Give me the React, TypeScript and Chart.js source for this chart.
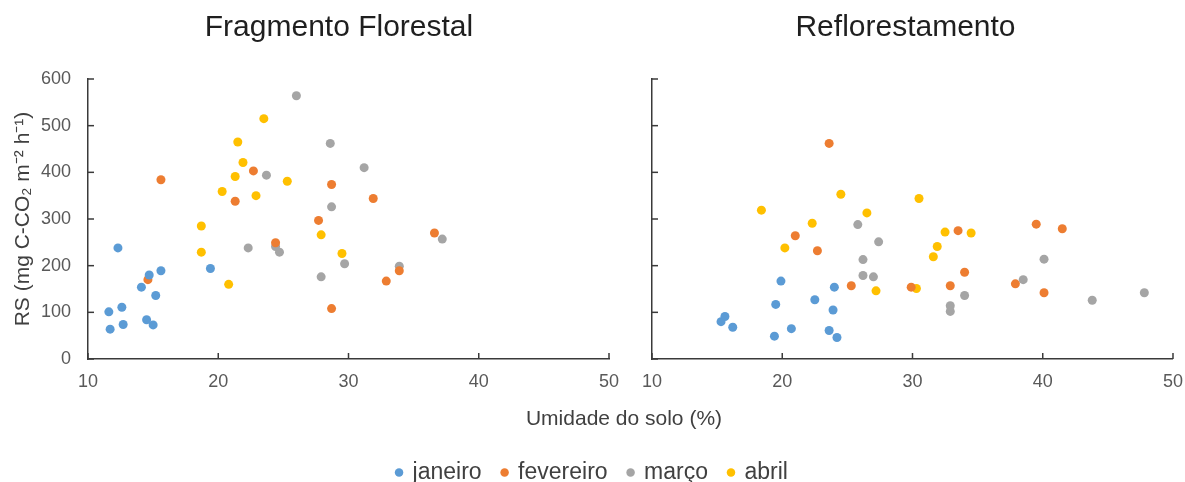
import React, { useEffect, useRef } from 'react';
import { Chart, registerables } from 'chart.js';

Chart.register(...registerables);

// ---------- data ----------
const months = ['janeiro', 'fevereiro', 'março', 'abril'];
const panelTitles = ['Fragmento Florestal', 'Reflorestamento'];
const xAxisTitle = 'Umidade do solo (%)';
const yAxisTitle = 'RS (mg C-CO₂ m⁻² h⁻¹)';
const xTicks = [10, 20, 30, 40, 50];
const yTicks = [0, 100, 200, 300, 400, 500, 600];

// Fragmento Florestal: [umidade (%), RS]
const fragJaneiro: [number, number][] = [
  [11.6, 101], [11.7, 64], [12.3, 238], [12.6, 111], [12.7, 74], [14.1, 154],
  [14.7, 180], [14.5, 84], [15.0, 73], [15.2, 136], [15.6, 189], [19.4, 194],
];
const fragFevereiro: [number, number][] = [
  [14.6, 170], [15.6, 384], [21.3, 338], [22.7, 403], [24.4, 249], [27.7, 297],
  [28.7, 374], [28.7, 108], [31.9, 344], [32.9, 167], [33.9, 189], [36.6, 270],
];
const fragMarco: [number, number][] = [
  [26.0, 564], [23.7, 394], [22.3, 238], [24.4, 241], [24.7, 229], [27.9, 176],
  [28.6, 462], [28.7, 326], [31.2, 410], [29.7, 204], [33.9, 199], [37.2, 257],
];
const fragAbril: [number, number][] = [
  [23.5, 515], [21.5, 465], [21.9, 421], [21.3, 391], [20.3, 359], [22.9, 350],
  [25.3, 381], [18.7, 285], [18.7, 229], [20.8, 160], [27.9, 266], [29.5, 226],
];

// Reflorestamento
const reflJaneiro: [number, number][] = [
  [15.3, 80], [15.6, 91], [16.2, 68], [19.4, 49], [19.5, 117], [19.9, 167],
  [20.7, 65], [22.5, 127], [23.6, 61], [23.9, 105], [24.0, 154], [24.2, 46],
];
const reflFevereiro: [number, number][] = [
  [23.6, 462], [21.0, 264], [22.7, 232], [25.3, 157], [29.9, 154], [33.5, 275],
  [32.9, 157], [34.0, 186], [37.9, 161], [39.5, 289], [40.1, 142], [41.5, 279],
];
const reflMarco: [number, number][] = [
  [25.8, 288], [27.4, 251], [26.2, 213], [26.2, 179], [27.0, 176], [32.9, 114],
  [32.9, 102], [34.0, 136], [38.5, 170], [40.1, 214], [43.8, 126], [47.8, 142],
];
const reflAbril: [number, number][] = [
  [18.4, 319], [20.2, 238], [22.3, 291], [24.5, 353], [26.5, 313], [27.2, 146],
  [30.5, 344], [30.3, 151], [32.5, 272], [31.9, 241], [31.6, 219], [34.5, 270],
];

const fragSeries = [fragJaneiro, fragFevereiro, fragMarco, fragAbril];
const reflSeries = [reflJaneiro, reflFevereiro, reflMarco, reflAbril];

// ---------- styles ----------
const monthColors = ['#5B9BD5', '#ED7D31', '#A5A5A5', '#FFC000'];
const FONT = "'Liberation Sans', Arial, sans-serif";
const AXIS = '#3a3a3a';
const TICK_TEXT = '#595959';
const TITLE_TEXT = '#1f1f1f';
const LABEL_TEXT = '#404040';

Chart.defaults.font.family = FONT;

const inwardTicks = {
  id: 'inwardTicks',
  afterDraw(chart: any) {
    const { ctx, chartArea, scales } = chart;
    ctx.save();
    ctx.strokeStyle = AXIS;
    ctx.lineWidth = 1.5;
    for (const v of xTicks) {
      const px = scales.x.getPixelForValue(v);
      ctx.beginPath();
      ctx.moveTo(px, chartArea.bottom);
      ctx.lineTo(px, chartArea.bottom - 6);
      ctx.stroke();
    }
    for (const v of yTicks) {
      const py = scales.y.getPixelForValue(v);
      ctx.beginPath();
      ctx.moveTo(chartArea.left, py);
      ctx.lineTo(chartArea.left + 6, py);
      ctx.stroke();
    }
    ctx.restore();
  },
};

function panelConfig(
  title: string,
  series: [number, number][][],
  showYLabels: boolean,
  canvasH: number,
  yWidth: number,
  rightWidth: number
): any {
  return {
    type: 'scatter',
    data: {
      datasets: series.map((pts, i) => ({
        label: months[i],
        data: pts.map(([x, y]) => ({ x, y })),
        backgroundColor: monthColors[i],
        borderColor: monthColors[i],
        borderWidth: 0,
        pointRadius: 4.5,
        pointHoverRadius: 4.5,
      })),
    },
    plugins: [inwardTicks],
    options: {
      animation: false,
      responsive: false,
      devicePixelRatio: 1,
      layout: { padding: 0 },
      events: [],
      plugins: {
        legend: { display: false },
        tooltip: { enabled: false },
        title: {
          display: true,
          text: title,
          color: TITLE_TEXT,
          font: { family: FONT, size: 30, weight: 'normal' },
          padding: { top: 10, bottom: 33 },
        },
      },
      scales: {
        x: {
          type: 'linear',
          position: 'bottom',
          min: 10,
          max: 50,
          ticks: { stepSize: 10, padding: 12, color: TICK_TEXT, font: { family: FONT, size: 18 } },
          grid: { display: false, drawTicks: false },
          border: { display: true, color: AXIS, width: 1.5 },
          afterFit: (s: any) => { s.height = canvasH - 359; },
        },
        y: {
          type: 'linear',
          position: 'left',
          min: 0,
          max: 600,
          ticks: { display: showYLabels, stepSize: 100, padding: 17, color: TICK_TEXT, font: { family: FONT, size: 18 } },
          grid: { display: false, drawTicks: false },
          border: { display: true, color: AXIS, width: 1.5 },
          title: {
            display: showYLabels,
            text: yAxisTitle,
            color: LABEL_TEXT,
            font: { family: FONT, size: 21 },
            padding: { top: 11, bottom: 0 },
          },
          afterFit: (s: any) => { s.width = yWidth; },
        },
        yRight: {
          type: 'linear',
          position: 'right',
          display: true,
          ticks: { display: false },
          grid: { display: false, drawTicks: false },
          border: { display: false },
          afterFit: (s: any) => { s.width = rightWidth; },
        },
      },
    },
  };
}

function legendConfig(): any {
  return {
    type: 'scatter',
    data: {
      datasets: months.map((m, i) => ({
        label: m,
        data: [],
        backgroundColor: monthColors[i],
        borderColor: monthColors[i],
        borderWidth: 0,
        pointStyle: 'circle',
      })),
    },
    options: {
      animation: false,
      responsive: false,
      devicePixelRatio: 1,
      layout: { padding: 0 },
      events: [],
      plugins: {
        tooltip: { enabled: false },
        title: { display: false },
        legend: {
          display: true,
          position: 'bottom',
          labels: {
            usePointStyle: true,
            pointStyle: 'circle',
            boxWidth: 4,
            boxHeight: 6,
            padding: 21,
            color: LABEL_TEXT,
            font: { family: FONT, size: 23 },
          },
        },
      },
      scales: {
        x: {
          type: 'linear',
          position: 'top',
          display: true,
          min: 0,
          max: 1,
          ticks: { display: false },
          grid: { display: false, drawTicks: false },
          border: { display: false },
          title: {
            display: true,
            text: xAxisTitle,
            color: LABEL_TEXT,
            font: { family: FONT, size: 21 },
            padding: { top: 33, bottom: 0 },
          },
          afterFit: (s: any) => { s.height = 50; },
        },
        y: {
          type: 'linear',
          position: 'left',
          display: true,
          ticks: { display: false },
          grid: { display: false, drawTicks: false },
          border: { display: false },
          afterFit: (s: any) => { s.width = 263; },
        },
        y2: {
          type: 'linear',
          position: 'right',
          display: true,
          ticks: { display: false },
          grid: { display: false, drawTicks: false },
          border: { display: false },
          afterFit: (s: any) => { s.width = 200; },
        },
      },
    },
  };
}

const L = { left: 0, top: 0, w: 678, h: 400 };
const R = { left: 616, top: 0, w: 579, h: 400 };
const B = { left: 0, top: 374, w: 1185, h: 120 };

export default function App() {
  const leftRef = useRef<HTMLCanvasElement>(null);
  const rightRef = useRef<HTMLCanvasElement>(null);
  const legendRef = useRef<HTMLCanvasElement>(null);

  useEffect(() => {
    const charts: Chart[] = [];
    if (leftRef.current) {
      charts.push(new Chart(leftRef.current, panelConfig(panelTitles[0], fragSeries, true, L.h, 88, L.w - 609)));
    }
    if (rightRef.current) {
      charts.push(new Chart(rightRef.current, panelConfig(panelTitles[1], reflSeries, false, R.h, 652 - R.left, R.left + R.w - 1175)));
    }
    if (legendRef.current) {
      charts.push(new Chart(legendRef.current, legendConfig()));
    }
    return () => charts.forEach((c) => c.destroy());
  }, []);

  const cs = (b: { left: number; top: number; w: number; h: number }): React.CSSProperties => ({
    position: 'absolute',
    left: b.left,
    top: b.top,
    width: b.w,
    height: b.h,
  });

  return (
    <div
      style={{
        position: 'fixed',
        left: 0,
        top: 0,
        width: 1185,
        height: 482,
        overflow: 'hidden',
        background: '#ffffff',
      }}
    >
      <canvas ref={leftRef} width={L.w} height={L.h} style={cs(L)} />
      <canvas ref={rightRef} width={R.w} height={R.h} style={cs(R)} />
      <canvas ref={legendRef} width={B.w} height={B.h} style={cs(B)} />
    </div>
  );
}
